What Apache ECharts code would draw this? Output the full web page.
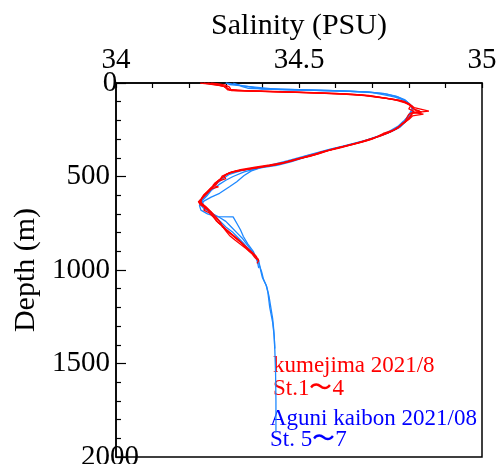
<!DOCTYPE html>
<html>
<head>
<meta charset="utf-8">
<script src="https://cdn.jsdelivr.net/npm/echarts@6/dist/echarts.min.js"></script>
<style>html,body{margin:0;padding:0;background:#fff}#c{width:503px;height:464px}</style>
</head>
<body>
<div id="c"></div>
<script>
// [salinity (PSU), depth (m)]
var st1 = [[34.23,0],[34.25,5],[34.28,12],[34.30,20],[34.305,30],[34.31,38],[34.40,45],[34.52,52],[34.62,60],[34.68,68],[34.71,76],[34.75,85],[34.78,95],[34.80,110],[34.81,125],[34.815,140],[34.83,150],[34.81,160],[34.805,175],[34.80,190],[34.79,210],[34.775,230],[34.76,250],[34.73,270],[34.71,290],[34.69,305],[34.66,320],[34.63,335],[34.60,350],[34.57,367],[34.55,380],[34.52,395],[34.49,410],[34.47,421],[34.44,435],[34.40,447],[34.36,460],[34.32,474],[34.30,490],[34.29,505],[34.28,520],[34.27,540],[34.26,560],[34.25,580],[34.24,600],[34.235,615],[34.23,630],[34.235,645],[34.245,660],[34.255,680],[34.265,700],[34.275,720],[34.285,745],[34.29,768],[34.305,790],[34.32,815],[34.335,840],[34.35,870],[34.365,900],[34.38,925],[34.39,950]];
var st2 = [[34.24,0],[34.26,6],[34.29,14],[34.30,24],[34.31,34],[34.36,42],[34.50,50],[34.63,58],[34.69,66],[34.72,75],[34.76,88],[34.79,100],[34.80,115],[34.815,132],[34.855,150],[34.815,158],[34.84,166],[34.81,176],[34.80,195],[34.785,215],[34.77,240],[34.75,262],[34.72,282],[34.70,300],[34.67,318],[34.64,332],[34.61,348],[34.58,362],[34.555,378],[34.53,392],[34.50,405],[34.46,425],[34.43,440],[34.39,452],[34.35,465],[34.31,480],[34.29,498],[34.285,515],[34.27,535],[34.265,548],[34.28,556],[34.26,566],[34.25,585],[34.24,605],[34.23,625],[34.228,640],[34.24,655],[34.25,672],[34.26,690],[34.27,712],[34.28,735],[34.29,760],[34.30,785],[34.315,810],[34.33,835],[34.345,860],[34.36,885],[34.375,910],[34.385,930]];
var st3 = [[34.25,0],[34.275,8],[34.295,18],[34.30,28],[34.305,36],[34.33,40],[34.48,47],[34.60,55],[34.67,63],[34.70,72],[34.74,82],[34.775,94],[34.795,108],[34.805,122],[34.80,138],[34.815,152],[34.80,168],[34.795,185],[34.79,205],[34.78,225],[34.765,245],[34.745,265],[34.72,285],[34.69,302],[34.66,320],[34.62,340],[34.59,355],[34.56,370],[34.54,385],[34.51,400],[34.48,418],[34.45,432],[34.41,444],[34.37,458],[34.33,470],[34.305,485],[34.295,500],[34.30,512],[34.28,525],[34.27,545],[34.265,558],[34.255,578],[34.245,598],[34.235,618],[34.225,635],[34.23,650],[34.245,665],[34.24,680],[34.255,695],[34.265,715],[34.275,740],[34.29,765],[34.30,790],[34.31,815],[34.325,840],[34.34,862],[34.355,885],[34.37,910],[34.38,935],[34.39,950],[34.385,965]];
var st4 = [[34.26,0],[34.28,5],[34.30,12],[34.31,22],[34.31,32],[34.315,40],[34.42,46],[34.56,54],[34.65,62],[34.70,70],[34.73,80],[34.765,92],[34.79,106],[34.805,120],[34.81,135],[34.82,148],[34.835,155],[34.81,162],[34.805,178],[34.795,198],[34.78,220],[34.77,242],[34.75,260],[34.725,280],[34.70,298],[34.675,314],[34.645,330],[34.61,346],[34.58,360],[34.55,376],[34.525,390],[34.49,408],[34.46,424],[34.42,438],[34.38,450],[34.34,463],[34.315,476],[34.30,490],[34.29,508],[34.28,525],[34.275,540],[34.26,560],[34.25,580],[34.24,598],[34.235,612],[34.24,622],[34.232,640],[34.238,660],[34.25,678],[34.26,698],[34.27,722],[34.28,748],[34.295,772],[34.31,798],[34.325,822],[34.34,848],[34.355,875],[34.365,900],[34.38,925],[34.39,945]];
var st5 = [[34.30,0],[34.31,8],[34.345,15],[34.35,25],[34.45,35],[34.60,42],[34.69,48],[34.74,60],[34.77,75],[34.795,100],[34.81,125],[34.81,145],[34.80,170],[34.79,200],[34.775,230],[34.76,250],[34.74,270],[34.71,290],[34.68,310],[34.64,330],[34.60,350],[34.56,370],[34.52,395],[34.48,420],[34.44,440],[34.39,455],[34.35,475],[34.32,500],[34.30,520],[34.28,545],[34.26,575],[34.25,600],[34.235,630],[34.24,660],[34.255,690],[34.28,715],[34.30,740],[34.315,770],[34.33,800],[34.345,830],[34.36,870],[34.375,910],[34.39,950],[34.395,1000],[34.40,1040],[34.41,1080],[34.415,1120],[34.42,1200],[34.428,1280],[34.432,1350],[34.434,1430],[34.436,1550],[34.437,1700],[34.437,1870]];
var st6 = [[34.32,0],[34.335,10],[34.345,20],[34.36,28],[34.50,36],[34.64,44],[34.70,52],[34.73,62],[34.76,74],[34.785,90],[34.80,108],[34.81,130],[34.805,152],[34.80,175],[34.785,205],[34.77,232],[34.75,255],[34.73,275],[34.70,295],[34.67,315],[34.63,335],[34.59,352],[34.555,372],[34.52,390],[34.49,410],[34.455,428],[34.42,442],[34.375,456],[34.34,470],[34.31,488],[34.295,508],[34.28,530],[34.265,555],[34.255,580],[34.245,605],[34.232,628],[34.23,650],[34.24,672],[34.26,692],[34.27,712],[34.285,740],[34.30,770],[34.32,800],[34.335,830],[34.35,860],[34.365,895],[34.38,930],[34.39,965],[34.398,1010],[34.403,1050],[34.412,1090],[34.418,1140],[34.423,1200],[34.428,1260],[34.431,1320],[34.433,1380],[34.434,1420]];
var st7 = [[34.30,0],[34.32,6],[34.345,14],[34.35,22],[34.40,32],[34.58,40],[34.68,47],[34.73,56],[34.765,70],[34.79,90],[34.80,110],[34.81,135],[34.81,158],[34.80,182],[34.79,210],[34.775,238],[34.755,258],[34.73,278],[34.70,298],[34.66,318],[34.62,338],[34.58,356],[34.545,375],[34.51,394],[34.47,415],[34.43,435],[34.40,450],[34.37,470],[34.35,495],[34.33,528],[34.31,555],[34.283,590],[34.26,610],[34.24,632],[34.228,655],[34.232,680],[34.25,700],[34.274,715],[34.32,716],[34.33,750],[34.34,785],[34.348,821],[34.36,860],[34.375,900],[34.385,945],[34.39,990]];

var redStations = [st1, st2, st3, st4];
var blueStations = [st5, st6, st7];
var xTitle = 'Salinity (PSU)';
var yTitle = 'Depth (m)';
var notes = ['kumejima 2021/8', 'St.1\u301C4', 'Aguni kaibon 2021/08', 'St. 5\u301C7'];

var FONT = "'Liberation Serif','Times New Roman',serif";
var series = [];
blueStations.forEach(function (d) {
  series.push({type: 'line', data: d, showSymbol: false, symbol: 'none', smooth: false,
    lineStyle: {color: '#1e88ff', width: 1.3}, itemStyle: {color: '#1e88ff'}});
});
redStations.forEach(function (d) {
  series.push({type: 'line', data: d, showSymbol: false, symbol: 'none', smooth: false,
    lineStyle: {color: '#ff0000', width: 1.3}, itemStyle: {color: '#ff0000'}});
});

var chart = echarts.init(document.getElementById('c'), null, {renderer: 'canvas'});
chart.setOption({
  animation: false,
  backgroundColor: '#fff',
  grid: {left: 116, top: 83, right: 21, bottom: 7, show: true, borderColor: '#000', borderWidth: 1.5,
    backgroundColor: 'transparent', outerBoundsMode: 'none'},
  xAxis: {
    type: 'value', position: 'top', min: 34, max: 35, interval: 0.5,
    name: xTitle, nameLocation: 'middle', nameGap: 38,
    nameTextStyle: {fontFamily: FONT, fontSize: 30, color: '#000'},
    axisLine: {show: true, lineStyle: {color: '#000', width: 1.5}},
    axisTick: {show: true, inside: true, length: 5, lineStyle: {color: '#000', width: 1.2}},
    minorTick: {show: true, splitNumber: 5, length: 5, lineStyle: {color: '#000', width: 1.2}},
    splitLine: {show: false},
    axisLabel: {fontFamily: FONT, fontSize: 29, color: '#000', margin: 8,
      formatter: function (v) { return String(v); }}
  },
  yAxis: {
    type: 'value', inverse: true, min: 0, max: 2000, interval: 500,
    name: yTitle, nameLocation: 'middle', nameGap: 67, nameRotate: 90,
    nameTextStyle: {fontFamily: FONT, fontSize: 30, color: '#000'},
    axisLine: {show: true, lineStyle: {color: '#000', width: 1.5}},
    axisTick: {show: true, inside: true, length: 10, lineStyle: {color: '#000', width: 1.2}},
    minorTick: {show: true, splitNumber: 5, length: 5, lineStyle: {color: '#000', width: 1.2}},
    splitLine: {show: false},
    axisLabel: {fontFamily: FONT, fontSize: 29, color: '#000', margin: 6, padding: [4, 0, 0, 0],
      alignMinLabel: 'center', alignMaxLabel: 'center',
      formatter: function (v) { return String(v); }}
  },
  graphic: [
    {type: 'text', left: 273, top: 354, style: {text: notes[0], font: '23px ' + FONT, fill: '#ff0000'}},
    {type: 'text', left: 273, top: 377, style: {text: notes[1], font: '23px ' + FONT, fill: '#ff0000'}},
    {type: 'text', left: 270, top: 407, style: {text: notes[2], font: '23px ' + FONT, fill: '#0000ff'}},
    {type: 'text', left: 270, top: 428, style: {text: notes[3], font: '23px ' + FONT, fill: '#0000ff'}}
  ],
  series: series
});
</script>
</body>
</html>
